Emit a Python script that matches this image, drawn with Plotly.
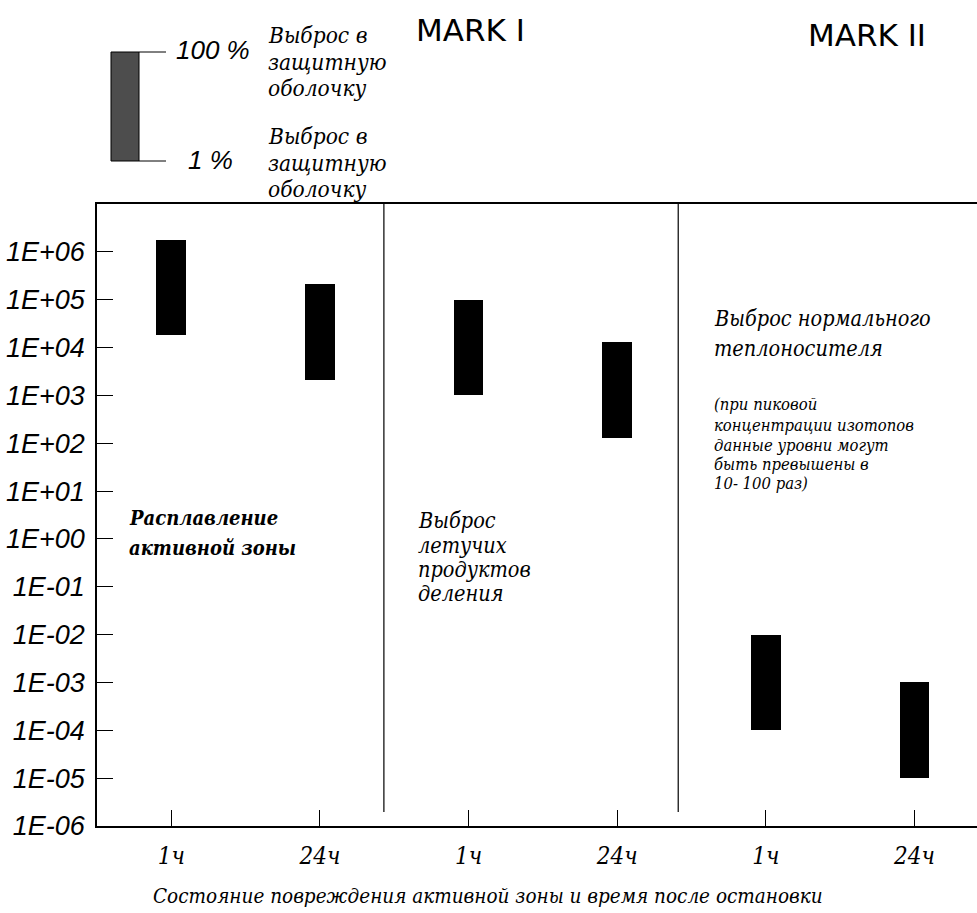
import plotly.graph_objects as go

# --- data -------------------------------------------------------------
time_labels = ["1ч", "24ч", "1ч", "24ч", "1ч", "24ч"]
release_low = [1.8e4, 2.1e3, 1.0e3, 1.3e2, 1.0e-4, 1.0e-5]     # 1 % release
release_high = [1.8e6, 2.1e5, 1.0e5, 1.3e4, 1.0e-2, 1.0e-3]    # 100 % release
y_tick_values = [1e-6, 1e-5, 1e-4, 1e-3, 1e-2, 1e-1, 1e0,
                 1e1, 1e2, 1e3, 1e4, 1e5, 1e6]
y_tick_labels = ["1E-06", "1E-05", "1E-04", "1E-03", "1E-02", "1E-01", "1E+00",
                 "1E+01", "1E+02", "1E+03", "1E+04", "1E+05", "1E+06"]
group_titles = ["MARK I", "MARK II"]
group_boundaries = [1.43, 3.41]

positions = list(range(len(time_labels)))

# --- page geometry ----------------------------------------------------
W, H = 977, 913
L, R, T, B = 97, 0, 204, 87
PW, PH = W - L - R, H - T - B


def px(x):
    return (x - L) / PW


def py(y):
    return (H - B - y) / PH


SERIF = "DejaVu Serif Condensed, DejaVu Serif"
SANS = "Liberation Sans"
DEJAVU = "DejaVu Sans"

fig = go.Figure()

fig.add_trace(go.Bar(
    x=positions,
    y=[hi - lo for lo, hi in zip(release_low, release_high)],
    base=release_low,
    width=0.2,
    marker=dict(color="black", line=dict(width=0)),
    showlegend=False,
    hoverinfo="skip",
))

shapes = []
# group separators
for xb in group_boundaries:
    shapes.append(dict(type="line", xref="x", yref="paper",
                       x0=xb, x1=xb, y0=py(812), y1=1,
                       line=dict(color="black", width=1.2)))

# key: shaded range bar with 100 % / 1 % leaders
shapes.append(dict(type="rect", xref="paper", yref="paper",
                   x0=px(111), x1=px(139), y0=py(161), y1=py(52),
                   fillcolor="#4d4d4d", line=dict(color="black", width=1)))
for yy in (52, 161):
    shapes.append(dict(type="line", xref="paper", yref="paper",
                       x0=px(139), x1=px(166), y0=py(yy), y1=py(yy),
                       line=dict(color="black", width=1)))

annotations = []


def text(s, x, y, size, family=SERIF, style="italic", weight="normal",
         xanchor="left"):
    annotations.append(dict(
        text=s, xref="paper", yref="paper", x=px(x), y=py(y),
        xanchor=xanchor, yanchor="middle", showarrow=False,
        font=dict(family=family, size=size, color="black",
                  style=style, weight=weight),
    ))


def lines(items, x, ys, size, **kw):
    for s, y in zip(items, ys):
        text(s, x, y, size, **kw)


# key labels
text("100 %", 174, 50, 26, family=SANS)
text("1 %", 186, 160, 26, family=SANS)
lines(["Выброс в", "защитную", "оболочку"], 266, [35, 62, 88], 22.5)
lines(["Выброс в", "защитную", "оболочку"], 266, [136, 163, 189], 22.5)

# group titles
text(group_titles[0], 470, 30, 31, family=DEJAVU, style="normal", xanchor="center")
text(group_titles[1], 867, 35, 31, family=DEJAVU, style="normal", xanchor="center")

# region notes
lines(["Расплавление", "активной зоны"], 127, [518, 548], 20, weight="bold")
lines(["Выброс", "летучих", "продуктов", "деления"], 416,
      [520, 545, 569, 593], 21.5)
lines(["Выброс нормального", "теплоносителя"], 712, [318, 348], 21.5)
lines(["(при пиковой", "концентрации изотопов", "данные уровни могут",
       "быть превышены в", "10- 100 раз)"], 712,
      [404, 425, 445, 464, 483], 16.5)

# x-axis caption
text("Состояние повреждения активной зоны и время после остановки",
     488, 896, 20.5, xanchor="center")

fig.update_layout(
    width=W, height=H,
    margin=dict(l=L, r=R, t=T, b=B, pad=0),
    paper_bgcolor="white", plot_bgcolor="white",
    shapes=shapes, annotations=annotations,
    bargap=0,
    xaxis=dict(
        range=[-0.5, 5.42],
        tickvals=positions, ticktext=time_labels,
        ticks="inside", ticklen=16, tickwidth=1, tickcolor="black",
        showline=True, linecolor="black", linewidth=1.5, mirror=True,
        showgrid=False, zeroline=False,
        tickfont=dict(family=SERIF, size=24, color="black", style="italic"),
        ticklabelstandoff=7,
    ),
    yaxis=dict(
        type="log", range=[-6, 7],
        tickvals=y_tick_values, ticktext=y_tick_labels,
        ticks="inside", ticklen=16, tickwidth=1, tickcolor="black",
        showline=True, linecolor="black", linewidth=1.5,
        showgrid=False, zeroline=False,
        tickfont=dict(family=SANS, size=27, color="black", style="italic"),
        ticklabelstandoff=5,
    ),
)

fig.write_html("out.html")
